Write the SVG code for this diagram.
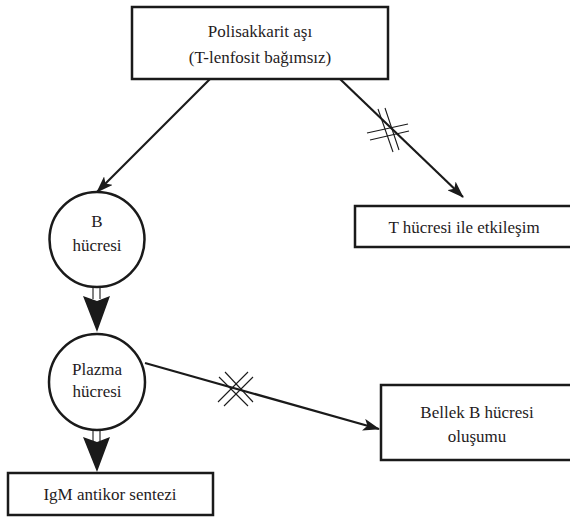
<svg xmlns="http://www.w3.org/2000/svg" width="570" height="519" viewBox="0 0 570 519">
<defs>
<style>
.box{fill:#fff;stroke:#1a1a1a;stroke-width:2.5}
.circ{fill:#fff;stroke:#1a1a1a;stroke-width:2.5}
.t{font-family:'Liberation Serif','Times New Roman',serif;font-size:17px;fill:#1f1c1d;text-anchor:middle}
.ln{stroke:#1a1a1a;stroke-width:2.2;fill:none}
.hatch{stroke:#1a1a1a;stroke-width:1.1;fill:none}
.head{fill:#1a1a1a;stroke:none}
</style>
<marker id="arr" viewBox="0 0 17 12" markerWidth="17" markerHeight="12" refX="16" refY="6" orient="auto" markerUnits="userSpaceOnUse">
<path d="M0,0 L17,6 L0,12 L4,6 z" fill="#1a1a1a"/>
</marker>
</defs>
<rect width="570" height="519" fill="#fff"/>
<g id="connectors">
<line class="ln" x1="210" y1="79" x2="97" y2="192" marker-end="url(#arr)"/>
<line class="ln" x1="340" y1="79" x2="463" y2="197" marker-end="url(#arr)"/>
<line class="ln" x1="145" y1="363" x2="379" y2="429" marker-end="url(#arr)"/>
<g id="block1">
<line class="hatch" x1="378" y1="109" x2="393" y2="152"/>
<line class="hatch" x1="385" y1="108" x2="399" y2="150"/>
<line class="hatch" x1="367" y1="133" x2="408" y2="124"/>
<line class="hatch" x1="370" y1="140" x2="409" y2="131"/>
</g>
<g id="block2">
<line class="hatch" x1="218" y1="402" x2="248" y2="372"/>
<line class="hatch" x1="224" y1="406" x2="253" y2="377"/>
<line class="hatch" x1="225" y1="372" x2="253" y2="402"/>
<line class="hatch" x1="219" y1="377" x2="248" y2="406"/>
</g>
<g id="dbl1">
<line class="hatch" x1="93" y1="287" x2="93" y2="299"/>
<line class="hatch" x1="100" y1="287" x2="100" y2="299"/>
<polygon class="head" points="83,296 97,301 110,296 97,332"/>
</g>
<g id="dbl2">
<line class="hatch" x1="93" y1="430" x2="93" y2="441"/>
<line class="hatch" x1="100" y1="430" x2="100" y2="441"/>
<polygon class="head" points="83,437 97,442 110,437 97,472"/>
</g>
</g>
<g id="polisakkarit">
<rect class="box" x="132" y="7" width="256" height="72"/>
<text class="t" x="260" y="37">Polisakkarit aşı</text>
<text class="t" x="260" y="63">(T-lenfosit bağımsız)</text>
</g>
<g id="thucresi">
<rect class="box" x="355" y="206" width="220" height="41"/>
<text class="t" x="464" y="233">T hücresi ile etkileşim</text>
</g>
<g id="bhucresi">
<circle class="circ" cx="97" cy="239.5" r="47.5"/>
<text class="t" x="97" y="227">B</text>
<text class="t" x="97" y="251">hücresi</text>
</g>
<g id="plazma">
<circle class="circ" cx="97" cy="382" r="48"/>
<text class="t" x="97" y="375">Plazma</text>
<text class="t" x="97" y="397">hücresi</text>
</g>
<g id="igm">
<rect class="box" x="8" y="473" width="205" height="42"/>
<text class="t" x="110" y="500">IgM antikor sentezi</text>
</g>
<g id="bellek">
<rect class="box" x="381" y="385" width="194" height="75"/>
<text class="t" x="477" y="418">Bellek B hücresi</text>
<text class="t" x="477" y="442">oluşumu</text>
</g>
</svg>
